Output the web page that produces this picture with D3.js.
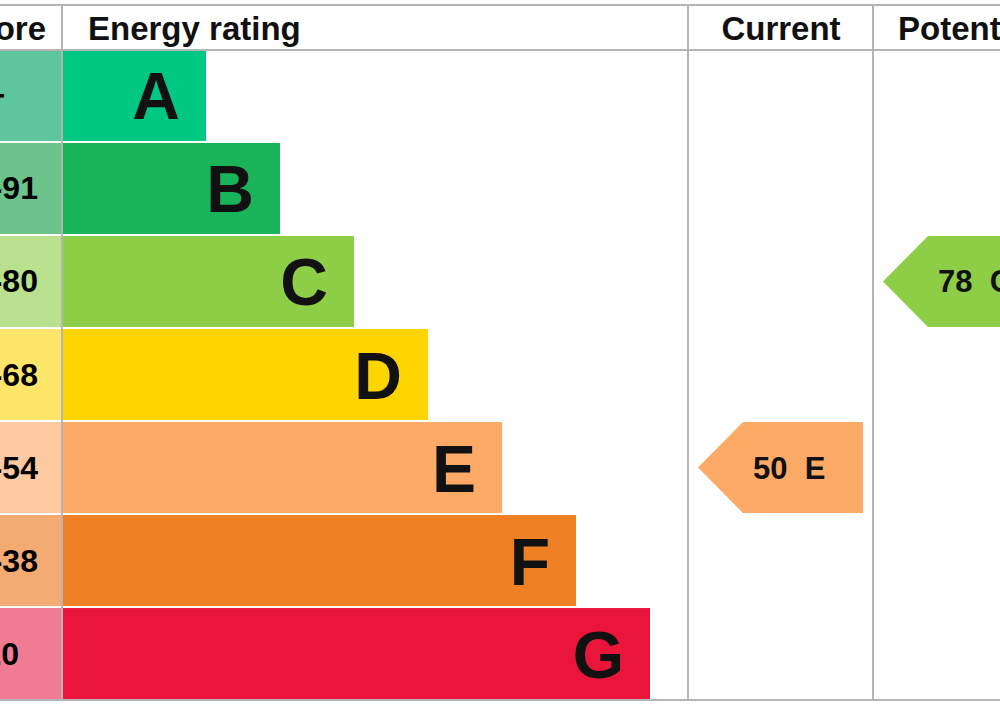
<!DOCTYPE html><html><head><meta charset="utf-8">
<script src="https://cdn.jsdelivr.net/npm/d3@7"></script>
<style>body{margin:0;background:#fff}</style></head><body><svg id="c" width="1000" height="707"></svg>
<script>
const bands=["A","B","C","D","E","F","G"];
const ranges=["92+","81-91","69-80","55-68","39-54","21-38","1-20"];
const barEnds=[206,280,354,428,502,576,650];
const colors=["#00c781","#19b459","#8dce46","#ffd500","#fcaa65","#ef8023","#e9153b"];
const lightColors=["#5fc59f","#6cc48a","#b9e08c","#ffe56a","#fdc9a1","#f4aa73","#f07b93"];
const current={score:50,band:"E"}, potential={score:78,band:"C"};
const svg=d3.select("#c"), F="Liberation Sans, Arial, sans-serif";
const y=d3.scaleBand().domain(bands).range([50,699]).paddingInner(0.022);
const x=d3.scaleLinear().domain([0,1000]).range([0,1000]);
const g=svg.append("g");
g.selectAll(".s").data(bands).join("rect").attr("x",-10).attr("width",71).attr("y",d=>y(d)).attr("height",y.bandwidth()).attr("fill",(d,i)=>lightColors[i]);
g.selectAll(".st").data(bands).join("text").attr("x",(d,i)=>i==0?-22:(i==6?-13:-3)).attr("y",d=>y(d)+y.bandwidth()/2+11).attr("text-anchor","middle").attr("font-family",F).attr("font-weight","bold").attr("font-size",32).text((d,i)=>ranges[i]);
g.selectAll(".b").data(bands).join("rect").attr("x",x(62)).attr("width",(d,i)=>x(barEnds[i])-x(62)).attr("y",d=>y(d)).attr("height",y.bandwidth()).attr("fill",(d,i)=>colors[i]);
g.selectAll(".bt").data(bands).join("text").attr("x",(d,i)=>x(barEnds[i])-26).attr("y",d=>y(d)+y.bandwidth()/2+24).attr("text-anchor","end").attr("font-family",F).attr("font-weight","bold").attr("font-size",66).attr("fill","#111").text(d=>d);
const line=(x1,y1,x2,y2)=>svg.append("line").attr("x1",x1).attr("y1",y1).attr("x2",x2).attr("y2",y2).attr("stroke","#b5b5b5").attr("stroke-width",2);
line(0,5,1000,5);line(0,50,1000,50);line(0,700,1000,700);
line(62,5,62,700);line(688,5,688,700);line(873,5,873,700);
const hd=(t,xx,a)=>svg.append("text").attr("x",xx).attr("y",40).attr("text-anchor",a).attr("font-family",F).attr("font-weight","bold").attr("font-size",33).attr("fill","#111").text(t);
hd("Score",46,"end");hd("Energy rating",88,"start");hd("Current",781,"middle");hd("Potential",898,"start");
function arrow(v,tip,right){const i=bands.indexOf(v.band),t=y(v.band),h=y.bandwidth();
 svg.append("path").attr("d",`M${tip},${t+h/2}L${tip+45},${t}L${right},${t}L${right},${t+h}L${tip+45},${t+h}Z`).attr("fill",colors[i]);
 svg.append("text").attr("x",tip+55).attr("y",t+h/2+11).attr("font-family",F).attr("font-weight","bold").attr("font-size",31).attr("fill","#111").attr("xml:space","preserve").text(v.score+"  "+v.band);}
arrow(current,698,863);arrow(potential,883,1010);
</script></body></html>
